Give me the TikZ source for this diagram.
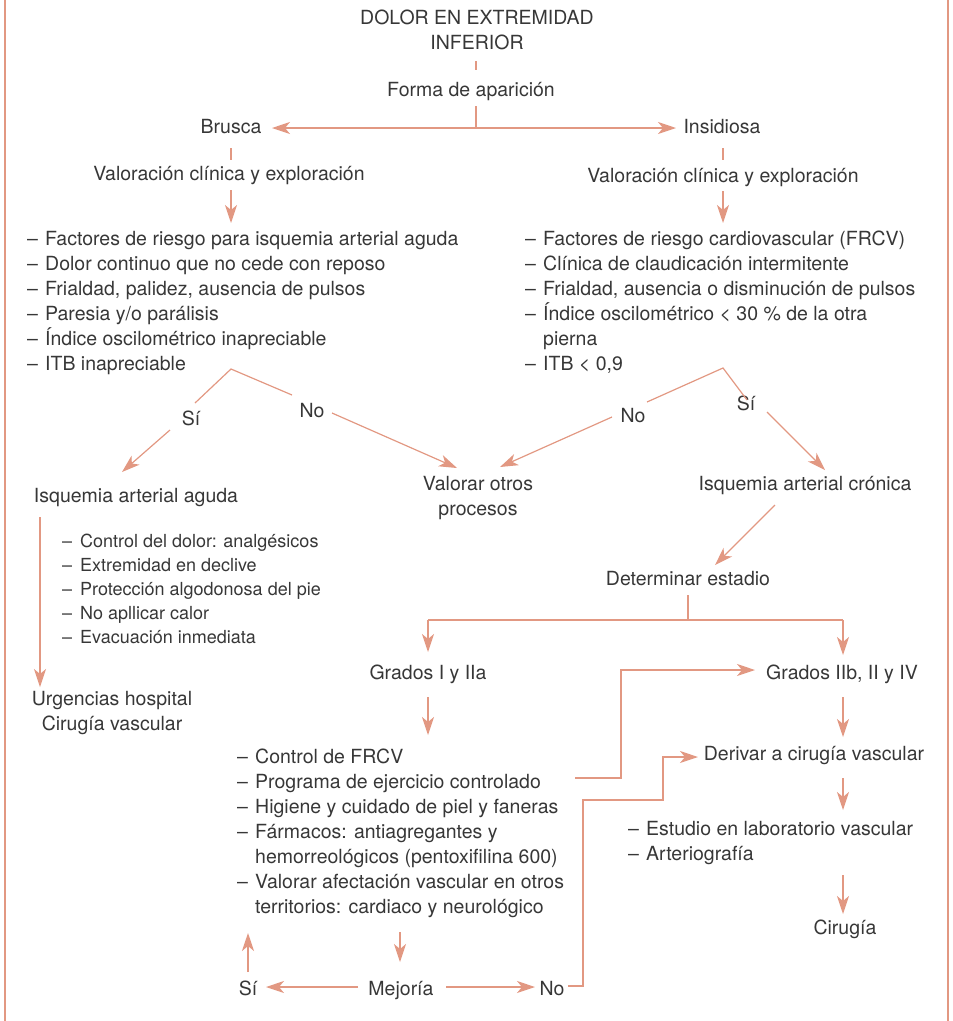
\documentclass[tikz,border=0pt]{standalone}
\usepackage{fontspec}
\setmainfont{TeX Gyre Heros}
\usetikzlibrary{arrows.meta}
\definecolor{sal}{RGB}{226,152,130}
\definecolor{ink}{RGB}{55,55,55}
\newcommand\dashitem{\makebox[18pt][l]{–}}
\newcommand\contitem{\hspace*{18pt}}
\begin{document}
\begin{tikzpicture}[x=1pt,y=-1pt,
 txt/.style={inner sep=0pt, text=ink, font=\fontsize{19.5}{25}\selectfont},
 smalltxt/.style={font=\fontsize{18}{24}\selectfont},
 lst/.style={txt, align=left, anchor=base west},
 ctr/.style={txt, align=center, anchor=base},
 ln/.style={draw=sal, line width=1.2pt},
 arr/.style={ln, -{Stealth[length=18pt,width=12pt,inset=5pt]}},
 frame/.style={draw=sal, line width=2pt},
]
\useasboundingbox (0,0) rectangle (953,1021);
% frame
\coordinate (fl1) at (5,0); \coordinate (fl2) at (5,1021);
\coordinate (fr1) at (948,0); \coordinate (fr2) at (948,1021);
\draw[frame] (fl1) -- (fl2);
\draw[frame] (fr1) -- (fr2);

% nodes (multi-line nodes are placed by the baseline of their last line)
\node[ctr] (title) at (477,49) {DOLOR EN EXTREMIDAD\\INFERIOR};
\node[ctr] (forma) at (471,96) {Forma de aparición};
\node[ctr] (brusca) at (231,133) {Brusca};
\node[ctr] (insid) at (722,133) {Insidiosa};
\node[ctr] (valL) at (229,180) {Valoración clínica y exploración};
\node[ctr] (valR) at (723,182) {Valoración clínica y exploración};
\node[lst] (listL) at (27,370) {\dashitem Factores de riesgo para isquemia arterial aguda\\
\dashitem Dolor continuo que no cede con reposo\\
\dashitem Frialdad, palidez, ausencia de pulsos\\
\dashitem Paresia y/o parálisis\\
\dashitem Índice oscilométrico inapreciable\\
\dashitem ITB inapreciable};
\node[lst] (listR) at (525,370) {\dashitem Factores de riesgo cardiovascular (FRCV)\\
\dashitem Clínica de claudicación intermitente\\
\dashitem Frialdad, ausencia o disminución de pulsos\\
\dashitem Índice oscilométrico < 30 \% de la otra\\
\contitem pierna\\
\dashitem ITB < 0,9};
\node[ctr] (siL) at (191,425) {Sí};
\node[ctr] (noL) at (312,417) {No};
\node[ctr] (otros) at (478,515) {Valorar otros\\procesos};
\node[ctr] (noR) at (633,422) {No};
\node[ctr] (siR) at (746,410) {Sí};
\node[ctr] (iaa) at (136,502) {Isquemia arterial aguda};
\node[ctr] (iac) at (805,490) {Isquemia arterial crónica};
\node[lst, smalltxt] (medL) at (62,643) {\dashitem Control del dolor: analgésicos\\
\dashitem Extremidad en declive\\
\dashitem Protección algodonosa del pie\\
\dashitem No apllicar calor\\
\dashitem Evacuación inmediata};
\node[ctr] (urg) at (112,730) {Urgencias hospital\\Cirugía vascular};
\node[ctr] (det) at (688,585) {Determinar estadio};
\node[ctr] (g1) at (428,679) {Grados I y IIa};
\node[ctr] (g2) at (842,679) {Grados IIb, II y IV};
\node[ctr] (deriv) at (814,760) {Derivar a cirugía vascular};
\node[lst] (frcv) at (237,913) {\dashitem Control de FRCV\\
\dashitem Programa de ejercicio controlado\\
\dashitem Higiene y cuidado de piel y faneras\\
\dashitem Fármacos: antiagregantes y\\
\contitem hemorreológicos (pentoxifilina 600)\\
\dashitem Valorar afectación vascular en otros\\
\contitem territorios: cardiaco y neurológico};
\node[lst] (estud) at (628,860) {\dashitem Estudio en laboratorio vascular\\
\dashitem Arteriografía};
\node[ctr] (cir) at (845,934) {Cirugía};
\node[ctr] (mej) at (401,995) {Mejoría};
\node[ctr] (siB) at (248,995) {Sí};
\node[ctr] (noB) at (552,995) {No};

% connector coordinates
\coordinate (tA) at (476,61); \coordinate (tB) at (476,70);
\coordinate (fA) at (476,106); \coordinate (split) at (476,128);
\coordinate (bT) at (272,128); \coordinate (iT) at (676,128);
\coordinate (bA) at (231,148); \coordinate (bB) at (231,160);
\coordinate (bC) at (231,190); \coordinate (bD) at (231,223);
\coordinate (iA) at (723,148); \coordinate (iB) at (723,160);
\coordinate (iC) at (723,191); \coordinate (iD) at (723,223);
% left decision
\coordinate (apL) at (231,369);
\coordinate (apLs) at (195,403); \coordinate (apLn) at (292,395);
\coordinate (sLa) at (170,430); \coordinate (sLb) at (122,472);
\coordinate (nLa) at (332,413); \coordinate (nLb) at (457,468);
% right decision
\coordinate (apR) at (723,368);
\coordinate (apRn) at (647,402); \coordinate (apRs) at (747,400);
\coordinate (nRa) at (612,417); \coordinate (nRb) at (500,467);
\coordinate (sRa) at (767,412); \coordinate (sRb) at (825,470);
% left column
\coordinate (aA) at (40,517); \coordinate (aB) at (40,687);
% right column
\coordinate (cA) at (775,505); \coordinate (cB) at (715,565);
\coordinate (dA) at (688,595); \coordinate (dB) at (688,620);
\coordinate (hL) at (428,620); \coordinate (hR) at (843,620);
\coordinate (g1T) at (428,652); \coordinate (g2T) at (843,655);
\coordinate (g1A) at (428,697); \coordinate (g1B) at (428,735);
\coordinate (g2A) at (843,697); \coordinate (g2B) at (843,737);
\coordinate (pA) at (575,778); \coordinate (pB) at (621,778);
\coordinate (pC) at (621,670); \coordinate (pD) at (755,670);
\coordinate (dvA) at (843,778); \coordinate (dvB) at (843,810);
\coordinate (eA) at (843,875); \coordinate (eB) at (843,914);
\coordinate (mA) at (400,932); \coordinate (mB) at (400,962);
\coordinate (mL1) at (358,987); \coordinate (mL2) at (266,987);
\coordinate (sU1) at (248,972); \coordinate (sU2) at (248,933);
\coordinate (mR1) at (446,987); \coordinate (mR2) at (535,987);
\coordinate (nA) at (568,986); \coordinate (nB) at (583,986);
\coordinate (nC) at (583,800); \coordinate (nD) at (663,800);
\coordinate (nE) at (663,757); \coordinate (nF) at (698,757);

% connectors
\draw[ln] (tA) -- (tB);
\draw[ln] (fA) -- (split);
\draw[arr] (split) -- (bT);
\draw[arr] (split) -- (iT);
\draw[ln] (bA) -- (bB);
\draw[arr] (bC) -- (bD);
\draw[ln] (iA) -- (iB);
\draw[arr] (iC) -- (iD);
\draw[ln] (apLs) -- (apL) -- (apLn);
\draw[arr] (sLa) -- (sLb);
\draw[arr] (nLa) -- (nLb);
\draw[ln] (apRn) -- (apR) -- (apRs);
\draw[arr] (nRa) -- (nRb);
\draw[arr] (sRa) -- (sRb);
\draw[arr] (aA) -- (aB);
\draw[arr] (cA) -- (cB);
\draw[ln] (dA) -- (dB);
\draw[ln] (hL) -- (hR);
\draw[arr] (hL) -- (g1T);
\draw[arr] (hR) -- (g2T);
\draw[arr] (g1A) -- (g1B);
\draw[arr] (g2A) -- (g2B);
\draw[arr] (pA) -- (pB) -- (pC) -- (pD);
\draw[arr] (dvA) -- (dvB);
\draw[arr] (eA) -- (eB);
\draw[arr] (mA) -- (mB);
\draw[arr] (mL1) -- (mL2);
\draw[arr] (sU1) -- (sU2);
\draw[arr] (mR1) -- (mR2);
\draw[arr] (nA) -- (nB) -- (nC) -- (nD) -- (nE) -- (nF);
\end{tikzpicture}
\end{document}
